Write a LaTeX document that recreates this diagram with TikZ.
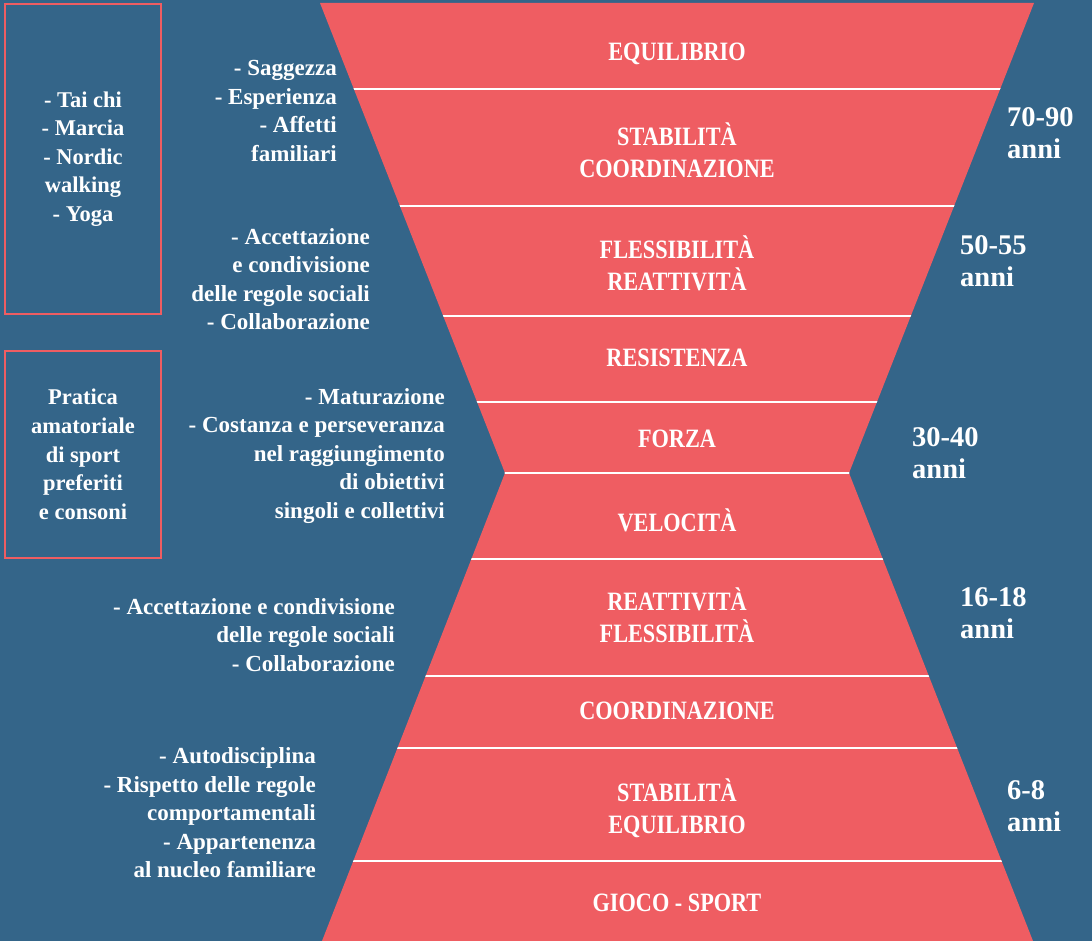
\documentclass[tikz,border=0pt]{standalone}
\usepackage{fontspec}
\setmainfont{Liberation Serif}
\newfontfamily\condfont[FakeStretch=0.84]{Liberation Serif}
\definecolor{bgblue}{HTML}{346589}
\definecolor{coral}{HTML}{EF5D62}

\begin{document}
\begin{tikzpicture}[x=1pt,y=-1pt,
  side/.style={text=white,font=\bfseries\fontsize{23}{28.5}\selectfont,align=right,anchor=east,inner sep=0pt},
  band/.style={text=white,font=\condfont\bfseries\fontsize{26.5}{32}\selectfont,align=center,inner sep=0pt},
  age/.style={text=white,font=\bfseries\fontsize{28.5}{32}\selectfont,align=left,anchor=west,inner sep=0pt},
  activity/.style={draw=coral,line width=1.6pt,text=white,font=\bfseries\fontsize{22.5}{28.6}\selectfont,align=center,minimum width=156,inner sep=0pt}]
  % Background
  \fill[bgblue] (0,0) rectangle (1092,941);
  % Hourglass
  \coordinate (tl) at (320,3);   \coordinate (tr) at (1034,3);
  \coordinate (wl) at (505,473); \coordinate (wr) at (849,473);
  \coordinate (bl) at (322,941); \coordinate (br) at (1033,941);
  \fill[coral] (tl) -- (tr) -- (wr) -- (br) -- (bl) -- (wl) -- cycle;
  % Separators between the bands
  \begin{scope}
    \clip (tl) -- (tr) -- (wr) -- (br) -- (bl) -- (wl) -- cycle;
    \foreach \y in {89,206,316,402,473,559,676,748,861}
      \draw[white,line width=2.6pt] (300,\y) -- (1060,\y);
  \end{scope}
  % Band labels
  \foreach \y/\t [count=\i] in {54/EQUILIBRIO,150/STABILITÀ\\COORDINAZIONE,263/FLESSIBILITÀ\\REATTIVITÀ,
      358/RESISTENZA,439/FORZA,520/VELOCITÀ,615/REATTIVITÀ\\FLESSIBILITÀ,711/COORDINAZIONE,
      808/STABILITÀ\\EQUILIBRIO,903/GIOCO - SPORT}
    \node[band] (band\i) at (677,\y) {\t};
  % Ages
  \foreach \x/\y/\a [count=\i] in {1007/133/70-90,960/261/50-55,912/453/30-40,960/613/16-18,1007/806/6-8}
    \node[age] (age\i) at (\x,\y) {\a\\anni};
  % Qualities on the left
  \node[side] (q1) at (337,111) {- Saggezza\\- Esperienza\\- Affetti\\familiari};
  \node[side] (q2) at (370,279) {- Accettazione\\e condivisione\\delle regole sociali\\- Collaborazione};
  \node[side] (q3) at (445,456) {- Maturazione\\- Costanza e perseveranza\\nel raggiungimento\\di obiettivi\\singoli e collettivi};
  \node[side] (q4) at (395,635) {- Accettazione e condivisione\\delle regole sociali\\- Collaborazione};
  \node[side] (q5) at (316,813) {- Autodisciplina\\- Rispetto delle regole\\comportamentali\\- Appartenenza\\al nucleo familiare};
  % Activity boxes
  \node[activity,minimum height=310] (act1) at (83,159) {- Tai chi\\- Marcia\\- Nordic\\walking\\- Yoga};
  \node[activity,minimum height=207] (act2) at (83,454.5) {Pratica\\amatoriale\\di sport\\preferiti\\e consoni};
\end{tikzpicture}
\end{document}
